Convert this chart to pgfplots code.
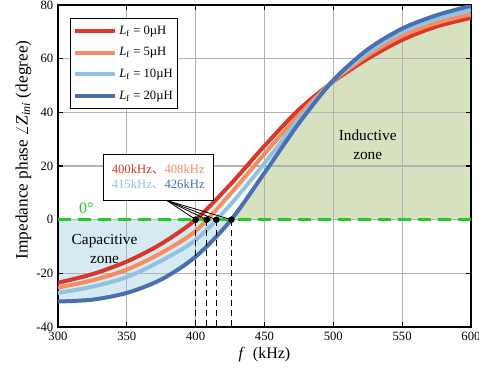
\documentclass[border=0pt]{standalone}
\usepackage{fontspec}
\setmainfont{Liberation Serif}
\newfontfamily\cjk{Noto Sans CJK SC}
\usepackage{pgfplots}
\pgfplotsset{compat=1.18}
\usepgfplotslibrary{fillbetween}
\definecolor{c0}{RGB}{218,54,41}
\definecolor{c5}{RGB}{246,140,95}
\definecolor{c10}{RGB}{146,194,226}
\definecolor{c20}{RGB}{72,112,178}
\definecolor{capfill}{RGB}{214,234,242}
\definecolor{indfill}{RGB}{214,225,192}
\definecolor{zgreen}{RGB}{40,200,40}
\begin{document}
\begin{tikzpicture}
\begin{axis}[
 set layers,
 scale only axis, width=309.75pt, height=241.5pt,
 xmin=300,xmax=600,ymin=-40,ymax=80,
 xtick={300,350,...,600}, ytick={-40,-20,...,80},
 grid=major, grid style={black!30, line width=0.8pt},
 axis line style={line width=1.6pt},
 tick align=inside, major tick length=4pt, tick style={black, line width=0.8pt},
 /pgf/number format/assume math mode=true,
 tick label style={font=\fontsize{9.5}{11}\selectfont},
 xlabel={\textit{f}\ \ (kHz)},
 ylabel={Impedance phase $\angle$\textit{Z}\textsubscript{\textit{ini}} (degree)},
 xlabel style={font=\fontsize{12}{14}\selectfont, yshift=2pt},
 ylabel style={font=\fontsize{13}{15}\selectfont, at={(ticklabel cs:0.55)}},
 ylabel shift=-3pt,
 legend style={at={(0.03,0.96)}, anchor=north west, draw=black, line width=0.6pt,
   font=\fontsize{9.5}{11}\selectfont, row sep=4.5pt, inner xsep=1.5pt, inner ysep=3.5pt},
 legend cell align=left,
 legend image code/.code={\draw[#1, line width=3pt] (0pt,0pt) -- (30pt,0pt);},
]
\addplot[c0, line width=3pt, smooth, name path=red] coordinates {
(300,-23.5)(325,-20.3)(350,-15.6)(375,-9)(400,0)(425,13)(450,27.5)(475,41)(500,51.5)(525,60)(550,67)(575,72)(600,75.2)};
\addlegendentry{\textit{L}\textsubscript{f} = 0µH}
\addplot[c5, line width=3pt, smooth] coordinates {
(300,-25.3)(325,-22.6)(350,-18.6)(375,-12.4)(400,-4.2)(425,9.5)(450,24.5)(475,39)(500,51.7)(525,61.2)(550,68.5)(575,73.3)(600,76.5)};
\addlegendentry{\textit{L}\textsubscript{f} = 5µH}
\addplot[c10, line width=3pt, smooth] coordinates {
(300,-27.3)(325,-25)(350,-21.4)(375,-15.3)(400,-7.6)(425,5.5)(450,21)(475,37.5)(500,51.9)(525,62.3)(550,70)(575,74.9)(600,78.1)};
\addlegendentry{\textit{L}\textsubscript{f} = 10µH}
\addplot[c20, line width=3pt, smooth, name path=blue] coordinates {
(300,-30.5)(325,-29.8)(350,-27.3)(375,-22.3)(400,-13.8)(425,-0.55)(450,17.45)(475,35.95)(500,51.95)(525,63.45)(550,71.2)(575,76.2)(600,79.7)};
\addlegendentry{\textit{L}\textsubscript{f} = 20µH}
\addplot[draw=none, name path=zero, forget plot] coordinates {(300,0)(600,0)};
\addplot[capfill, forget plot] fill between[of=blue and zero, soft clip={domain=300:426}, on layer=axis background];
\addplot[indfill, forget plot] fill between[of=blue and zero, soft clip={domain=426:600}, on layer=axis background];
\addplot[indfill, forget plot] fill between[of=red and zero, soft clip={domain=499:600}, on layer=axis background];
\addplot[zgreen, line width=2pt, dash pattern=on 10pt off 5pt, forget plot] coordinates {(300,0)(600,0)};
\addplot[black, line width=0.8pt, dash pattern=on 5pt off 2.5pt, forget plot] coordinates {(400,0)(400,-40)};
\addplot[black, line width=0.8pt, dash pattern=on 5pt off 2.5pt, forget plot] coordinates {(408,0)(408,-40)};
\addplot[black, line width=0.8pt, dash pattern=on 5pt off 2.5pt, forget plot] coordinates {(415,0)(415,-40)};
\addplot[black, line width=0.8pt, dash pattern=on 5pt off 2.5pt, forget plot] coordinates {(426,0)(426,-40)};
\draw[black, line width=0.6pt] (axis cs:379.3,7.1) -- (axis cs:400,0);
\draw[black, line width=0.6pt] (axis cs:379.3,7.1) -- (axis cs:408,0);
\draw[black, line width=0.6pt] (axis cs:379.3,7.1) -- (axis cs:415,0);
\draw[black, line width=0.6pt] (axis cs:379.3,7.1) -- (axis cs:426,0);
\addplot[only marks, mark=*, mark size=2.2pt, black, forget plot] coordinates {(400,0)(408,0)(415,0)(426,0)};
\node[draw=black, fill=white, line width=0.6pt, align=center, minimum width=82.5pt, minimum height=35pt, inner sep=2pt, font=\fontsize{9.5}{11.5}\selectfont]
 at (axis cs:372.8,15.8) {{\color{c0}400kHz{\cjk 、}}{\color{c5}408kHz}\\{\color{c10}415kHz{\cjk 、}}{\color{c20}426kHz}};
\node[text=zgreen, anchor=south, font=\fontsize{12}{14}\selectfont] at (axis cs:320.5,0.6) {0°};
\node[align=center, font=\fontsize{11.5}{14}\selectfont] at (axis cs:525,27.9) {Inductive\\zone};
\node[align=center, font=\fontsize{11.5}{14}\selectfont] at (axis cs:333.8,-11) {Capacitive\\zone};
\end{axis}
\pgfresetboundingbox
\path[use as bounding box] (-43.5pt,-33.75pt) rectangle (315.75pt,245.25pt);
\end{tikzpicture}
\end{document}
